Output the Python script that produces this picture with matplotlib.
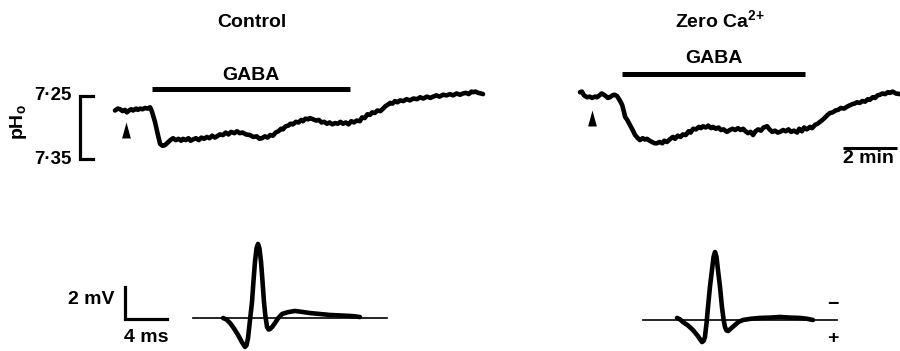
import matplotlib
matplotlib.use("Agg")
import matplotlib.pyplot as plt

plt.rcParams["font.family"] = ["Liberation Sans", "DejaVu Sans"]
plt.rcParams["font.weight"] = "bold"
plt.rcParams["mathtext.default"] = "regular"

FIG_W, FIG_H = 900, 351

# extracellular pH, control (time in min, pH)
control_t = [0.00, 0.10, 0.19, 0.28, 0.37, 0.44, 0.52, 0.60, 0.67, 0.78, 0.85, 0.93, 1.02, 1.11,
             1.20, 1.30, 1.37, 1.48, 1.58, 1.67, 1.76, 1.85, 1.95, 2.05, 2.15, 2.25, 2.35, 2.45,
             2.52, 2.62, 2.72, 2.80, 2.89, 3.00, 3.10, 3.20, 3.30, 3.40, 3.50, 3.60, 3.70, 3.78,
             3.88, 4.00, 4.10, 4.20, 4.30, 4.42, 4.52, 4.62, 4.72, 4.85, 5.00, 5.12, 5.25, 5.35,
             5.44, 5.55, 5.65, 5.75, 5.85, 5.95, 6.05, 6.15, 6.22, 6.32, 6.42, 6.50, 6.59, 6.70,
             6.80, 6.90, 6.96, 7.05, 7.15, 7.22, 7.33, 7.45, 7.55, 7.65, 7.75, 7.85, 7.95, 8.05,
             8.15, 8.25, 8.35, 8.44, 8.55, 8.65, 8.75, 8.85, 8.95, 9.07, 9.15, 9.25, 9.35, 9.45,
             9.52, 9.62, 9.72, 9.83, 9.93, 10.02, 10.10, 10.19, 10.28, 10.37, 10.46, 10.56, 10.68,
             10.80, 10.92, 11.05, 11.19, 11.30, 11.42, 11.55, 11.68, 11.78, 11.90, 12.02, 12.15,
             12.28, 12.41, 12.52, 12.65, 12.78, 12.89, 13.00, 13.10, 13.20, 13.26, 13.35, 13.45,
             13.55, 13.63]
control_ph = [7.273, 7.270, 7.271, 7.274, 7.272, 7.276, 7.273, 7.271, 7.273, 7.270, 7.272, 7.270,
              7.271, 7.269, 7.270, 7.268, 7.275, 7.291, 7.310, 7.326, 7.329, 7.328, 7.324, 7.320,
              7.317, 7.320, 7.318, 7.321, 7.318, 7.320, 7.317, 7.321, 7.319, 7.317, 7.320, 7.316,
              7.318, 7.315, 7.317, 7.313, 7.316, 7.314, 7.311, 7.312, 7.308, 7.311, 7.307, 7.309,
              7.306, 7.309, 7.308, 7.311, 7.312, 7.315, 7.314, 7.318, 7.317, 7.314, 7.316, 7.312,
              7.313, 7.308, 7.306, 7.302, 7.303, 7.298, 7.297, 7.294, 7.295, 7.291, 7.292, 7.288,
              7.290, 7.286, 7.287, 7.285, 7.287, 7.289, 7.288, 7.292, 7.291, 7.294, 7.292, 7.295,
              7.293, 7.294, 7.291, 7.294, 7.292, 7.295, 7.290, 7.292, 7.289, 7.290, 7.284, 7.285,
              7.279, 7.280, 7.276, 7.277, 7.273, 7.274, 7.270, 7.266, 7.264, 7.261, 7.262, 7.258,
              7.260, 7.257, 7.258, 7.255, 7.257, 7.254, 7.255, 7.252, 7.254, 7.251, 7.253, 7.251,
              7.249, 7.251, 7.248, 7.249, 7.247, 7.249, 7.246, 7.248, 7.246, 7.245, 7.247, 7.243,
              7.244, 7.243, 7.245, 7.246, 7.247]

# extracellular pH, zero Ca2+ (time in min, pH)
zero_ca_t = [0.00, 0.07, 0.15, 0.26, 0.36, 0.45, 0.55, 0.63, 0.72, 0.80, 0.85, 0.95, 1.03, 1.11,
             1.20, 1.28, 1.37, 1.46, 1.56, 1.62, 1.67, 1.75, 1.85, 1.95, 2.04, 2.12, 2.22, 2.32,
             2.40, 2.48, 2.58, 2.67, 2.76, 2.85, 2.95, 3.05, 3.12, 3.22, 3.32, 3.44, 3.52, 3.62,
             3.72, 3.81, 3.92, 4.02, 4.10, 4.19, 4.30, 4.40, 4.48, 4.56, 4.66, 4.75, 4.85, 4.93,
             5.03, 5.13, 5.22, 5.32, 5.44, 5.55, 5.65, 5.75, 5.85, 5.95, 6.04, 6.13, 6.22, 6.32,
             6.41, 6.50, 6.60, 6.70, 6.80, 6.93, 7.02, 7.12, 7.22, 7.32, 7.41, 7.52, 7.62, 7.72,
             7.82, 7.92, 8.04, 8.12, 8.22, 8.30, 8.40, 8.52, 8.60, 8.70, 8.80, 8.89, 8.98, 9.08,
             9.17, 9.26, 9.36, 9.46, 9.56, 9.66, 9.78, 9.89, 9.98, 10.08, 10.17, 10.26, 10.36,
             10.46, 10.56, 10.66, 10.74, 10.84, 10.93, 11.02, 11.11, 11.20, 11.30, 11.40, 11.48,
             11.58, 11.70, 11.85]
zero_ca_ph = [7.244, 7.243, 7.249, 7.252, 7.251, 7.253, 7.251, 7.252, 7.249, 7.246, 7.247, 7.250,
              7.253, 7.252, 7.249, 7.248, 7.250, 7.256, 7.264, 7.274, 7.283, 7.288, 7.296, 7.304,
              7.312, 7.316, 7.320, 7.317, 7.319, 7.318, 7.321, 7.323, 7.325, 7.325, 7.323, 7.325,
              7.321, 7.323, 7.319, 7.315, 7.318, 7.313, 7.315, 7.311, 7.312, 7.306, 7.308, 7.302,
              7.303, 7.299, 7.301, 7.298, 7.300, 7.297, 7.301, 7.299, 7.302, 7.300, 7.304, 7.303,
              7.307, 7.304, 7.302, 7.304, 7.301, 7.304, 7.302, 7.306, 7.309, 7.307, 7.312, 7.306,
              7.303, 7.305, 7.300, 7.298, 7.303, 7.307, 7.305, 7.308, 7.307, 7.304, 7.306, 7.303,
              7.307, 7.305, 7.308, 7.302, 7.306, 7.300, 7.303, 7.299, 7.301, 7.296, 7.294, 7.291,
              7.288, 7.284, 7.280, 7.277, 7.276, 7.273, 7.272, 7.269, 7.270, 7.267, 7.265, 7.263,
              7.262, 7.260, 7.261, 7.258, 7.259, 7.255, 7.256, 7.252, 7.253, 7.249, 7.248, 7.246,
              7.247, 7.244, 7.245, 7.243, 7.246, 7.247]

# GABA application (start, end in min) and stimulus marker time
control_gaba = [1.37, 8.70]
zero_ca_gaba = [1.56, 8.33]
control_stim = 0.41
zero_ca_stim = 0.44

# field potentials (time in ms, mV)
control_fp_t = [2.86, 3.20, 3.52, 3.90, 4.29, 4.65, 4.95, 5.10, 5.24, 5.40, 5.62, 5.76, 5.90, 6.05,
                6.19, 6.33, 6.48, 6.62, 6.76, 6.90, 7.05, 7.20, 7.33, 7.55, 7.81, 8.10, 8.48, 9.00,
                9.71, 10.40, 11.14, 12.10, 13.05, 14.00, 14.95, 15.45, 15.90]
control_fp_mv = [0.00, -0.10, -0.31, -0.65, -1.06, -1.50, -1.81, -1.70, -1.25, -0.30, 1.00, 2.30,
                 3.50, 4.35, 4.63, 4.35, 3.50, 2.30, 1.00, 0.10, -0.56, -0.72, -0.69, -0.55, -0.31,
                 -0.02, 0.25, 0.36, 0.44, 0.38, 0.31, 0.25, 0.19, 0.16, 0.13, 0.10, 0.06]
zero_ca_fp_t = [3.24, 3.50, 3.81, 4.30, 4.76, 5.20, 5.62, 5.78, 5.90, 6.05, 6.19, 6.38, 6.57, 6.72,
                6.86, 7.00, 7.14, 7.33, 7.52, 7.67, 7.81, 7.95, 8.10, 8.40, 8.76, 9.10, 9.52, 10.30,
                11.14, 12.10, 13.05, 14.00, 14.95, 15.60, 16.19]
zero_ca_fp_mv = [0.13, 0.05, -0.13, -0.35, -0.63, -0.98, -1.38, -1.30, -1.06, -0.20, 0.81, 2.10,
                 3.13, 3.95, 4.25, 3.95, 3.13, 2.10, 0.81, 0.05, -0.44, -0.65, -0.69, -0.52, -0.31,
                 -0.12, 0.00, 0.08, 0.13, 0.15, 0.19, 0.15, 0.13, 0.08, 0.00]
fp_baseline = [0.0, 18.5]


def add_panel(fig, box, anchor_px, anchor_val, px_per_unit):
    # axes placed in pixel units; anchor_val sits at anchor_px, y scale counts pixels upward
    left, top, w, h = box
    apx, apy = anchor_px
    xv, yv = anchor_val
    sx, sy = px_per_unit
    ax = fig.add_axes([left / FIG_W, 1 - (top + h) / FIG_H, w / FIG_W, h / FIG_H])
    ax.set_xlim(xv - (apx - left) / sx, xv + (left + w - apx) / sx)
    ax.set_ylim(yv - (top + h - apy) / sy, yv + (apy - top) / sy)
    ax.axis("off")
    return ax


fig = plt.figure(figsize=(FIG_W / 100, FIG_H / 100), dpi=100)
trace = dict(color="black", lw=3.3, solid_joinstyle="round", solid_capstyle="round")
fs = 14
# upward arrowhead marking the stimulus
arrowhead = dict(marker=[(0, 1), (-0.55, -1), (0.55, -1), (0, 1)], color="black", ms=11.5, mew=0)

# pH panels
ph_left = add_panel(fig, (0, 30, 515, 160), (115, 96), (0, 7.25), (27, -630))
ph_right = add_panel(fig, (520, 30, 380, 160), (580, 96), (0, 7.25), (27, -630))

ph_left.plot(control_t, control_ph, **trace)
ph_left.plot(control_gaba, [7.239, 7.239], color="black", lw=3.6, solid_capstyle="butt")
ph_left.text(sum(control_gaba) / 2, 7.2246, "GABA", ha="center", va="baseline", fontsize=fs)
ph_left.plot(control_stim, 7.304, **arrowhead)
ph_left.text(5.07, 7.1405, "Control", ha="center", va="baseline", fontsize=fs)

# pH calibration bar
ph_left.plot([-0.82, -1.30, -1.30, -0.82], [7.25, 7.25, 7.35, 7.35], color="black", lw=2.3,
             solid_joinstyle="miter")
ph_left.text(-1.59, 7.25, "7·25", ha="right", va="center", fontsize=fs - 0.5)
ph_left.text(-1.59, 7.351, "7·35", ha="right", va="center", fontsize=fs - 0.5)
ph_left.text(-3.59, 7.291, "pH$_o$", ha="center", va="center", rotation=90, fontsize=fs)

ph_right.plot(zero_ca_t, zero_ca_ph, **trace)
ph_right.plot(zero_ca_gaba, [7.215, 7.215], color="black", lw=3.6, solid_capstyle="butt")
ph_right.text(sum(zero_ca_gaba) / 2, 7.1976, "GABA", ha="center", va="baseline", fontsize=fs)
ph_right.plot(zero_ca_stim, 7.285, **arrowhead)
ph_right.text(5.19, 7.1405, "Zero Ca$^{2{+}}$", ha="center", va="baseline", fontsize=fs)

# time calibration bar
ph_right.plot([9.74, 11.74], [7.3325, 7.3325], color="black", lw=2.2, solid_capstyle="butt")
ph_right.text(9.74, 7.3563, "2 min", ha="left", va="baseline", fontsize=fs)

# field potential panels
fp_left = add_panel(fig, (40, 225, 380, 126), (193, 318), (0, 0), (10.5, 16))
fp_right = add_panel(fig, (600, 225, 300, 126), (643, 320), (0, 0), (10.5, 16))

fp_left.plot(fp_baseline, [0, 0], color="black", lw=1.2)
fp_left.plot(control_fp_t, control_fp_mv, **trace)
fp_left.plot([-6.48, -6.48, -2.48], [1.94, -0.06, -0.06], color="black", lw=2.3,
             solid_joinstyle="miter")
fp_left.text(-7.43, 1.13, "2 mV", ha="right", va="center", fontsize=fs)
fp_left.text(-4.48, -1.19, "4 ms", ha="center", va="center", fontsize=fs)

fp_right.plot(fp_baseline, [0, 0], color="black", lw=1.2)
fp_right.plot(zero_ca_fp_t, zero_ca_fp_mv, **trace)
fp_right.text(18.1, 0.94, "\u2212", ha="center", va="center", fontsize=fs)
fp_right.text(18.1, -1.13, "+", ha="center", va="center", fontsize=fs)

fig.savefig("out.png", dpi=100)
